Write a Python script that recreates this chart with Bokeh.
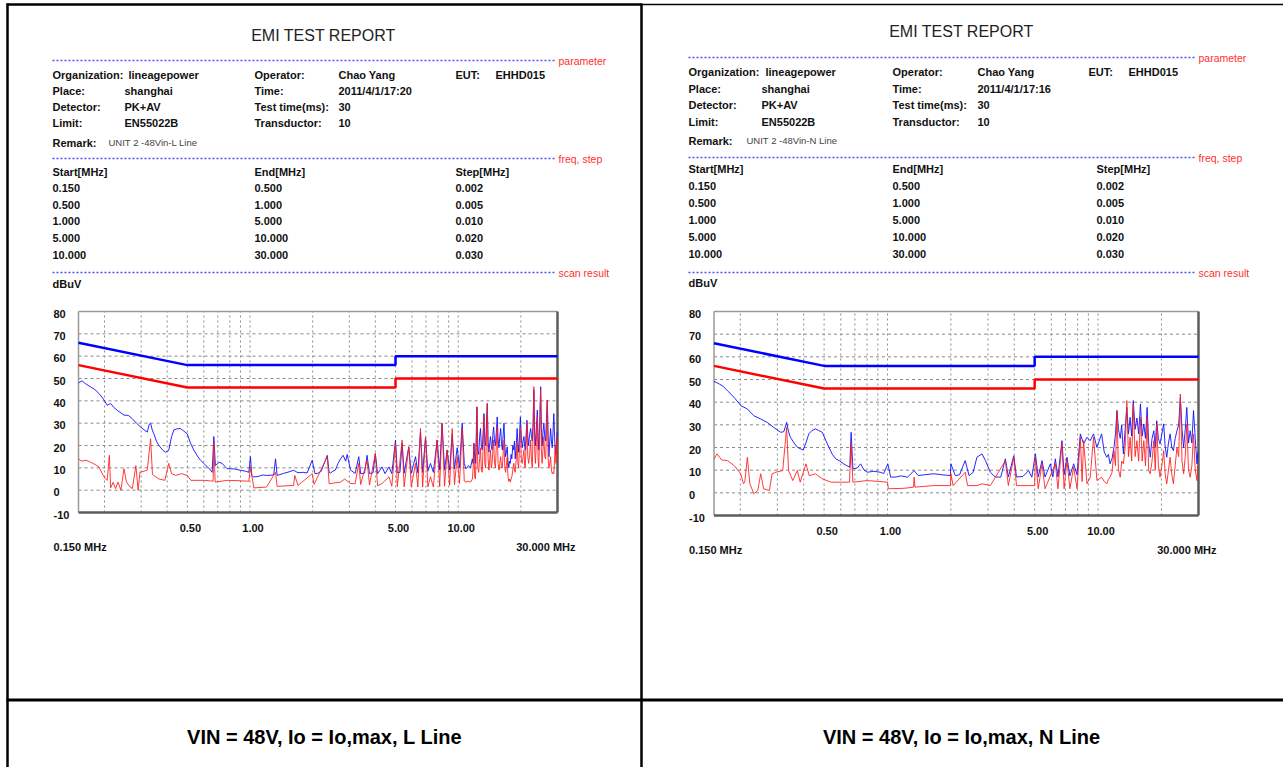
import math
from bokeh.plotting import figure
from bokeh.models import Range1d, LogScale
from bokeh.core.properties import value
from bokeh.embed import file_html
from bokeh.resources import INLINE

# ---------------- data ----------------
FREQ_RANGE = [0.150, 30.0]
DB_RANGE = [-10, 80]
DB_TICKS = [80, 70, 60, 50, 40, 30, 20, 10, 0, -10]
DB_GRID = [0, 10, 20, 30, 40, 50, 60, 70]
FREQ_TICKS = [0.5, 1.0, 5.0, 10.0]
FREQ_GRID = [0.2, 0.3, 0.4, 0.5, 0.6, 0.7, 0.8, 0.9, 1, 2, 3, 4, 5, 6, 7, 8, 9, 10, 20]

LIMIT_F = [0.15, 0.5, 5.0, 5.0, 30.0]
LIMIT_PK = [66, 56, 56, 60, 60]
LIMIT_AV = [56, 46, 46, 50, 50]

SCAN_HEAD = ["Start[MHz]", "End[MHz]", "Step[MHz]"]
SCAN_START = ["0.150", "0.500", "1.000", "5.000", "10.000"]
SCAN_END = ["0.500", "1.000", "5.000", "10.000", "30.000"]
SCAN_STEP = ["0.002", "0.005", "0.010", "0.020", "0.030"]

INFO_LABEL_1 = ["Organization:", "Place:", "Detector:", "Limit:"]
INFO_VALUE_1 = ["lineagepower", "shanghai", "PK+AV", "EN55022B"]
INFO_LABEL_2 = ["Operator:", "Time:", "Test time(ms):", "Transductor:"]
INFO_VALUE_2_L = ["Chao Yang", "2011/4/1/17:20", "30", "10"]
INFO_VALUE_2_N = ["Chao Yang", "2011/4/1/17:16", "30", "10"]
EUT = ["EUT:", "EHHD015"]
REMARK_L = "UNIT 2 -48Vin-L Line"
REMARK_N = "UNIT 2 -48Vin-N Line"
SECTION_TAGS = ["parameter", "freq, step", "scan result"]
TITLE = "EMI TEST REPORT"
CAPTION_L = "VIN = 48V, Io = Io,max, L Line"
CAPTION_N = "VIN = 48V, Io = Io,max, N Line"

# L line, peak detector (freq MHz, dBuV)
L_PEAK = [
    (0.150, 48), (0.156, 49), (0.163, 47.5), (0.171, 46.3), (0.180, 45), (0.188, 43.3),
    (0.197, 41), (0.206, 38), (0.214, 38.8), (0.222, 37), (0.230, 35.8), (0.248, 33.6),
    (0.260, 33.5), (0.272, 32), (0.285, 30), (0.298, 28.3), (0.310, 27), (0.321, 26),
    (0.328, 29.5), (0.333, 30), (0.339, 27), (0.345, 25.3), (0.355, 22), (0.365, 20),
    (0.380, 18), (0.393, 17), (0.407, 17.8), (0.420, 24), (0.431, 27), (0.447, 27.5),
    (0.463, 27.6), (0.480, 26.5), (0.499, 25.3), (0.518, 21), (0.537, 18), (0.557, 15.5),
    (0.578, 13.4), (0.600, 12), (0.623, 10.4), (0.640, 9.5), (0.658, 8), (0.670, 24),
    (0.682, 11), (0.710, 12.5), (0.735, 12), (0.760, 10.5), (0.777, 9.6), (0.840, 9.5),
    (0.900, 8.9), (0.950, 8.5), (0.987, 8), (1.005, 15), (1.020, 6.5), (1.043, 5.9),
    (1.100, 6.2), (1.150, 6.8), (1.209, 6.6), (1.300, 6.8), (1.326, 14), (1.350, 6.6),
    (1.450, 7.5), (1.540, 8.2), (1.620, 8.9), (1.700, 7.8), (1.800, 8.0), (1.880, 7.7),
    (1.990, 13.4), (2.050, 7.5), (2.100, 7.4), (2.200, 8.5), (2.350, 15.6), (2.400, 8),
    (2.440, 7.7), (2.500, 8.5), (2.570, 9), (2.650, 12), (2.720, 14), (2.800, 15.6),
    (2.880, 13), (2.930, 16), (3.040, 9), (3.200, 7.5), (3.330, 15), (3.400, 7.4),
    (3.550, 7.6), (3.650, 15.6), (3.750, 7.4), (3.900, 7.8), (4.000, 16.4), (4.100, 7.4),
    (4.310, 10.4), (4.450, 7.4), (4.650, 10.4), (4.800, 7.4), (5.000, 22.4), (5.100, 7.8),
    (5.250, 8), (5.380, 21), (5.500, 7.6), (5.790, 19.4), (5.950, 7.5), (6.240, 15),
    (6.400, 7.8), (6.590, 26), (6.750, 8), (6.970, 23.8), (7.150, 8.5), (7.360, 12),
    (7.600, 8), (7.920, 22.4), (8.150, 9), (8.370, 30), (8.600, 9), (8.850, 18),
    (9.100, 9), (9.360, 25), (9.600, 9.5), (9.890, 19), (10.15, 10), (10.45, 30),
    (10.70, 12), (10.90, 9.5), (11.20, 11), (11.46, 10), (11.70, 14), (11.80, 12),
    (11.90, 21), (12.00, 15), (12.10, 12), (12.20, 22), (12.30, 37.3), (12.42, 18),
    (12.55, 16), (12.68, 24), (12.80, 27.6), (12.92, 20), (13.05, 18), (13.18, 26),
    (13.30, 34.3), (13.42, 22), (13.55, 20), (13.68, 30), (13.80, 38.8), (13.92, 22),
    (14.05, 17), (14.18, 21), (14.30, 24), (14.42, 20), (14.55, 18), (14.68, 25),
    (14.80, 28.3), (14.95, 22), (15.10, 20), (15.25, 26), (15.40, 32.8), (15.55, 23),
    (15.70, 19), (15.85, 24), (16.00, 27.6), (16.15, 21), (16.30, 18), (16.45, 25),
    (16.60, 30), (16.75, 20), (16.90, 15), (17.05, 17), (17.20, 19.4), (17.35, 13),
    (17.50, 10), (17.65, 13), (17.80, 12), (17.95, 16), (18.10, 14), (18.30, 20),
    (18.50, 18), (18.65, 22), (18.80, 14), (19.00, 20), (19.20, 27.6), (19.35, 21),
    (19.50, 17), (19.70, 24), (19.90, 32.8), (20.10, 24), (20.30, 19), (20.50, 22),
    (20.70, 24), (20.85, 20), (21.00, 18), (21.20, 25), (21.40, 31.3), (21.60, 24),
    (21.80, 20), (22.05, 25), (22.30, 27.6), (22.50, 24), (22.70, 22), (22.90, 30),
    (23.10, 44.8), (23.30, 26), (23.50, 20), (23.75, 28), (24.00, 35.8), (24.20, 24),
    (24.40, 18), (24.65, 30), (24.90, 46.3), (25.10, 28), (25.30, 20), (25.55, 26),
    (25.80, 30), (26.05, 24), (26.30, 22), (26.55, 32), (26.80, 40.3), (27.05, 24),
    (27.30, 15), (27.55, 22), (27.80, 27.6), (28.05, 22), (28.30, 19), (28.55, 26),
    (28.80, 34.3), (29.05, 24), (29.30, 16), (29.50, 19), (29.70, 21), (29.90, 26),
]

# L line, average detector
L_AVG = [
    (0.150, 14), (0.155, 13), (0.163, 13.4), (0.171, 12.6), (0.180, 11.5), (0.188, 10.4),
    (0.196, 7), (0.202, 5.1), (0.206, 4.4), (0.211, 15.6), (0.214, 1), (0.220, 3.5),
    (0.226, 0.7), (0.232, 3.6), (0.240, 0), (0.248, 9.6), (0.255, 3.6), (0.265, 1.5),
    (0.272, 0.7), (0.283, 11), (0.290, 0), (0.296, 8), (0.310, 8.5), (0.321, 9),
    (0.333, 23), (0.340, 7), (0.345, 6.6), (0.365, 5), (0.390, 4.4), (0.407, 12),
    (0.420, 7.4), (0.440, 6.6), (0.470, 7.4), (0.500, 6.5), (0.520, 4.4), (0.600, 4.4),
    (0.640, 4.2), (0.665, 4), (0.670, 21.6), (0.680, 3.6), (0.777, 4.4), (0.900, 4.2),
    (0.987, 4), (1.005, 10.4), (1.043, 1), (1.200, 1.4), (1.326, 8), (1.350, 1.7),
    (1.620, 2.1), (1.640, 6.6), (1.700, 2.1), (1.990, 7.4), (2.030, 2.6), (2.350, 15),
    (2.400, 2.9), (2.720, 3.6), (2.850, 5), (3.040, 3), (3.200, 2.9), (3.330, 12),
    (3.400, 2.5), (3.650, 13.4), (3.750, 2.3), (4.000, 16.4), (4.100, 2), (4.310, 3),
    (4.650, 6), (4.800, 1.8), (5.000, 21), (5.100, 1.6), (5.380, 22.4), (5.500, 1.5),
    (5.790, 19.4), (5.950, 1.5), (6.240, 12), (6.400, 1.4), (6.590, 27.6), (6.750, 1.4),
    (6.970, 23.8), (7.150, 1.5), (7.360, 6), (7.600, 1.4), (7.920, 22.4), (8.150, 1.6),
    (8.370, 30), (8.600, 1.8), (8.850, 18), (9.100, 2.2), (9.360, 27.6), (9.600, 2.5),
    (9.890, 15), (10.15, 3), (10.45, 27.6), (10.70, 4), (10.90, 3.6), (11.20, 4),
    (11.46, 3.6), (11.70, 5), (11.80, 10), (11.90, 21), (12.00, 6), (12.10, 5),
    (12.20, 15), (12.30, 37.3), (12.42, 10), (12.55, 8), (12.68, 14), (12.80, 19),
    (12.92, 9), (13.05, 8), (13.18, 20), (13.30, 32.8), (13.42, 12), (13.55, 10),
    (13.68, 26), (13.80, 38.8), (13.92, 14), (14.05, 9), (14.18, 14), (14.30, 18),
    (14.42, 10), (14.55, 12), (14.68, 18), (14.80, 22.4), (14.95, 12), (15.10, 10),
    (15.25, 20), (15.40, 28.3), (15.55, 12), (15.70, 9), (15.85, 12), (16.00, 15),
    (16.15, 10), (16.30, 10), (16.45, 17), (16.60, 22.4), (16.75, 10), (16.90, 8),
    (17.05, 11), (17.20, 15), (17.35, 6), (17.50, 4), (17.65, 5), (17.80, 3.6),
    (17.95, 5), (18.10, 6), (18.30, 9), (18.50, 12), (18.65, 9), (18.80, 8),
    (19.00, 14), (19.20, 21), (19.35, 12), (19.50, 10), (19.70, 18), (19.90, 27.6),
    (20.10, 14), (20.30, 12), (20.50, 15), (20.70, 18), (20.85, 11), (21.00, 10),
    (21.20, 20), (21.40, 30), (21.60, 15), (21.80, 12), (22.05, 16), (22.30, 22.4),
    (22.50, 13), (22.70, 10), (22.90, 26), (23.10, 46.3), (23.30, 18), (23.50, 12),
    (23.75, 22), (24.00, 32.8), (24.20, 14), (24.40, 10), (24.65, 26), (24.90, 44.8),
    (25.10, 18), (25.30, 12), (25.55, 18), (25.80, 24), (26.05, 15), (26.30, 14),
    (26.55, 25), (26.80, 40.3), (27.05, 14), (27.30, 10), (27.55, 12), (27.80, 15),
    (28.05, 9), (28.30, 7.4), (28.55, 8), (28.80, 7.4), (29.05, 14), (29.30, 20),
    (29.50, 12), (29.70, 24), (29.90, 14),
]

# N line, peak detector
N_PEAK = [
    (0.150, 49.2), (0.159, 48), (0.166, 47), (0.174, 45), (0.187, 42.1), (0.201, 38.5),
    (0.216, 37), (0.232, 34), (0.250, 32.6), (0.268, 31.1), (0.288, 28.9), (0.311, 26.7),
    (0.322, 27), (0.332, 31.1), (0.339, 27), (0.346, 24.5), (0.360, 22), (0.373, 20.1),
    (0.397, 18.9), (0.410, 22), (0.423, 26), (0.438, 27.5), (0.455, 28.2), (0.472, 27.5),
    (0.490, 26.7), (0.510, 23), (0.527, 20.1), (0.547, 17), (0.568, 15), (0.595, 14),
    (0.619, 12.8), (0.640, 12), (0.662, 11.3), (0.672, 26.7), (0.685, 10.6), (0.720, 11),
    (0.745, 12.8), (0.775, 10), (0.803, 9.1), (0.860, 9.5), (0.922, 9.1), (0.960, 8.5),
    (1.004, 12.8), (1.035, 6.9), (1.100, 7), (1.160, 7.5), (1.244, 6.9), (1.338, 9.8),
    (1.400, 7.6), (1.500, 8), (1.660, 8.4), (1.800, 8), (1.990, 7.6), (2.000, 12.8),
    (2.100, 7.6), (2.200, 8), (2.340, 14.2), (2.440, 7.6), (2.550, 9), (2.660, 15.7),
    (2.810, 17.2), (2.920, 14.2), (3.080, 9.1), (3.250, 7), (3.450, 6.9), (3.630, 15),
    (3.750, 7), (3.980, 16.4), (4.100, 7), (4.400, 7.2), (4.680, 9.8), (4.850, 6.9),
    (5.040, 17.2), (5.200, 7), (5.420, 14.2), (5.600, 7), (5.940, 12.8), (6.100, 7),
    (6.270, 15), (6.450, 7), (6.740, 23), (6.900, 8), (7.120, 15.7), (7.350, 7.5),
    (7.660, 12.8), (7.950, 8), (8.240, 26), (8.540, 21.6), (8.860, 24.5), (9.180, 23),
    (9.520, 26), (9.880, 20), (10.40, 26), (10.70, 18), (11.00, 15.7), (11.20, 17),
    (11.40, 12.8), (11.65, 15), (11.90, 20), (12.10, 26), (12.30, 36.3), (12.50, 28),
    (12.75, 24), (12.95, 30), (13.20, 17.2), (13.45, 28), (13.70, 37.7), (13.95, 26),
    (14.20, 33.3), (14.45, 25), (14.70, 40.7), (15.00, 28), (15.30, 33), (15.60, 26),
    (15.90, 39.2), (16.20, 25), (16.50, 30.4), (16.80, 24), (17.10, 37.7), (17.40, 22),
    (17.70, 15.7), (18.05, 24), (18.40, 27.4), (18.70, 20), (19.00, 31.8), (19.35, 24),
    (19.70, 21.6), (20.10, 26), (20.50, 30.4), (20.85, 20), (21.20, 15.7), (21.60, 22),
    (22.00, 26), (22.40, 20), (22.80, 18.6), (23.25, 24), (23.70, 27.4), (24.15, 30),
    (24.60, 42.1), (25.05, 28), (25.50, 20), (25.95, 28), (26.40, 37.7), (26.90, 22),
    (27.40, 27.4), (27.90, 22), (28.40, 36.3), (28.95, 24), (29.50, 12.8), (29.80, 18),
]

# N line, average detector
N_AVG = [
    (0.150, 15), (0.155, 17.2), (0.163, 14.5), (0.174, 14.2), (0.187, 12), (0.201, 8.4),
    (0.207, 4), (0.210, 4.7), (0.216, 15.7), (0.222, 4), (0.232, -0.4), (0.242, 1),
    (0.250, 8.4), (0.258, 1.8), (0.275, 1), (0.283, 8.4), (0.295, 9.1), (0.318, 9.8),
    (0.332, 28.9), (0.339, 9.8), (0.355, 5.4), (0.373, 9.8), (0.385, 4.7), (0.410, 12.8),
    (0.425, 7.6), (0.455, 8.4), (0.490, 6.2), (0.540, 4.7), (0.600, 4.7), (0.660, 4.7),
    (0.672, 21.6), (0.685, 4.7), (0.800, 5.4), (0.920, 5), (1.000, 4.7), (1.010, 1.8),
    (1.200, 2), (1.330, 2.5), (1.338, 6.9), (1.350, 2.5), (1.660, 3.2), (1.990, 3.2),
    (2.000, 8.4), (2.050, 3.2), (2.340, 9.1), (2.400, 3.2), (2.660, 3.2), (2.810, 4),
    (3.080, 3.2), (3.630, 14.2), (3.750, 3.2), (3.980, 15.7), (4.100, 3.2), (4.680, 3.2),
    (5.000, 3.2), (5.040, 15.7), (5.200, 1.8), (5.420, 12.8), (5.600, 1.8), (6.270, 12.8),
    (6.450, 1.8), (6.740, 21.6), (6.900, 1.8), (7.120, 14.2), (7.350, 1.8), (7.660, 11.3),
    (7.950, 1.8), (8.240, 24.5), (8.400, 5), (8.540, 23), (8.860, 4), (9.180, 6.9),
    (9.520, 24.5), (9.880, 5.4), (10.40, 6.9), (10.70, 5), (11.00, 4), (11.20, 6),
    (11.40, 6.9), (11.65, 9), (11.90, 18.6), (12.10, 12), (12.30, 36.3), (12.50, 10),
    (12.75, 6.9), (12.95, 14), (13.20, 12.8), (13.45, 20), (13.70, 40.7), (13.95, 16),
    (14.20, 24.5), (14.45, 14), (14.70, 39.2), (15.00, 16), (15.30, 23), (15.60, 14),
    (15.90, 33.3), (16.20, 14), (16.50, 23), (16.80, 12), (17.10, 33.3), (17.40, 10),
    (17.70, 8.4), (18.05, 14), (18.40, 23), (18.70, 10), (19.00, 30.4), (19.35, 12),
    (19.70, 6.9), (20.10, 12), (20.50, 18.6), (20.85, 8), (21.20, 4), (21.60, 10),
    (22.00, 15.7), (22.40, 8), (22.80, 4), (23.25, 12), (23.70, 20), (24.15, 16),
    (24.60, 43.6), (25.05, 14), (25.50, 8.4), (25.95, 16), (26.40, 30.4), (26.90, 10),
    (27.40, 6.9), (27.90, 12), (28.40, 25.9), (28.95, 10), (29.50, 5.4), (29.80, 12),
]

# ---------------- figure ----------------
W, H = 1283, 767
p = figure(width=W, height=H, x_range=Range1d(0, W), y_range=Range1d(H, 0),
           output_backend="svg", toolbar_location=None, min_border=0,
           x_axis_location=None, y_axis_location=None)
p.grid.visible = False
p.outline_line_color = None
p.background_fill_color = "white"
p.border_fill_color = "white"

FONT = value("Liberation Sans")


def txt(xs, ys, texts, size="11px", style="bold", color="#111111", align="left",
        baseline="middle", **kw):
    p.text(x=xs, y=ys, text=texts, text_font=FONT, text_font_size=size,
           text_font_style=style, text_color=color, text_align=align,
           text_baseline=baseline, **kw)


# table lines (page coordinates)
p.segment(x0=[6, 641], y0=[4, 4], x1=[641, W], y1=[4, 4],
          line_color="black", line_width=[2.5, 1.5])
p.segment(x0=[7, 641], y0=[3, 3], x1=[7, 641], y1=[H, H],
          line_color="black", line_width=2.5)
p.segment(x0=[6], y0=[699.5], x1=[W], y1=[699.5], line_color="black", line_width=3)

extra_x, extra_y, extra_xs = {}, {}, {}

PANELS = [
    dict(key="L", peak=L_PEAK, avg=L_AVG, info2=INFO_VALUE_2_L, remark=REMARK_L,
         caption=CAPTION_L, caption_xy=(324, 736),
         frame=(78, 557, 311, 512), title_xy=(323, 35),
         cx=[52, 124, 254, 338, 455, 495], val0_x=128,
         rows=[74, 90, 106, 122.5], remark_y=142, remark_x=108,
         sep=[60, 158, 272], sep_x=(52, 555), tag_x=558,
         head_y=171, scan_rows=[187, 204, 220.5, 237, 254], scan_x=[52, 254, 455],
         dbuv_y=283),
    dict(key="N", peak=N_PEAK, avg=N_AVG, info2=INFO_VALUE_2_N, remark=REMARK_N,
         caption=CAPTION_N, caption_xy=(961, 736),
         frame=(713.5, 1198, 311, 515), title_xy=(961, 31),
         cx=[688, 761, 892, 977, 1088, 1128], val0_x=765,
         rows=[71, 88, 104, 121], remark_y=140, remark_x=746,
         sep=[57, 157, 272], sep_x=(688, 1195), tag_x=1198,
         head_y=168, scan_rows=[185, 202, 219, 236, 253], scan_x=[688, 892, 1096],
         dbuv_y=282),
]

for pn in PANELS:
    k = pn["key"]
    L, R, T, B = pn["frame"]
    lo, hi = math.log10(FREQ_RANGE[0]), math.log10(FREQ_RANGE[1])
    kx = (hi - lo) / (R - L)
    extra_x[k] = Range1d(10 ** (lo - L * kx), 10 ** (hi + (W - R) * kx))
    extra_xs[k] = LogScale()
    d0, d1 = DB_RANGE
    ky = (d1 - d0) / (B - T)
    extra_y[k] = Range1d(d0 - (H - B) * ky, d1 + T * ky)

p.extra_x_ranges = extra_x
p.extra_y_ranges = extra_y
p.extra_x_scales = extra_xs

for pn in PANELS:
    k = pn["key"]
    rn = dict(x_range_name=k, y_range_name=k)
    f0, f1 = FREQ_RANGE
    d0, d1 = DB_RANGE

    # ---- header texts ----
    txt([pn["title_xy"][0]], [pn["title_xy"][1]], [TITLE], size="16px", style="normal",
        color="#222222", align="center")
    sx0, sx1 = pn["sep_x"]
    p.segment(x0=[sx0] * 3, y0=pn["sep"], x1=[sx1] * 3, y1=pn["sep"],
              line_color="#4f4fff", line_width=1.5, line_dash="2 2")
    txt([pn["tag_x"]] * 3, pn["sep"], SECTION_TAGS, size="10.5px", style="normal",
        color="#ff3030")
    cx = pn["cx"]
    rows = pn["rows"]
    txt([cx[0]] * 4, rows, INFO_LABEL_1)
    txt([pn["val0_x"]] + [cx[1]] * 3, rows, INFO_VALUE_1)
    txt([cx[2]] * 4, rows, INFO_LABEL_2)
    txt([cx[3]] * 4, rows, pn["info2"])
    txt([cx[4], cx[5]], [rows[0]] * 2, EUT)
    txt([cx[0]], [pn["remark_y"]], ["Remark:"])
    txt([pn["remark_x"]], [pn["remark_y"]], [pn["remark"]], size="9.5px", style="normal",
        color="#444444")
    txt(pn["scan_x"], [pn["head_y"]] * 3, SCAN_HEAD)
    for col, vals in zip(pn["scan_x"], [SCAN_START, SCAN_END, SCAN_STEP]):
        txt([col] * len(vals), pn["scan_rows"], vals)
    txt([cx[0]], [pn["dbuv_y"]], ["dBuV"])

    # ---- grid ----
    p.segment(x0=FREQ_GRID, y0=[d0] * len(FREQ_GRID), x1=FREQ_GRID, y1=[d1] * len(FREQ_GRID),
              line_color="#8a8a8a", line_width=1, line_dash="2 3", **rn)
    p.segment(x0=[f0] * len(DB_GRID), y0=DB_GRID, x1=[f1] * len(DB_GRID), y1=DB_GRID,
              line_color="#8a8a8a", line_width=1, line_dash="3 3", **rn)

    # ---- frame ----
    p.segment(x0=[f0, f0], y0=[d0, d1], x1=[f0, f1], y1=[d1, d1],
              line_color="#9a9a9a", line_width=1.5, **rn)
    p.segment(x0=[f1, f0], y0=[d1, d0], x1=[f1, f1], y1=[d0, d0],
              line_color="#5c5c5c", line_width=2.5, **rn)

    # ---- tick labels ----
    txt([f0] * len(DB_TICKS), DB_TICKS, [str(v) for v in DB_TICKS],
        x_offset=-25, y_offset=2, **rn)
    txt(FREQ_TICKS, [d0] * len(FREQ_TICKS), ["%.2f" % v for v in FREQ_TICKS],
        align="center", x_offset=3, y_offset=15, **rn)
    txt([f0], [d0], ["%.3f MHz" % f0], x_offset=-25, y_offset=34, **rn)
    txt([f1], [d0], ["%.3f MHz" % f1], align="right", x_offset=18, y_offset=34, **rn)

    # ---- traces ----
    pf, pv = zip(*pn["peak"])
    af, av = zip(*pn["avg"])
    p.line(list(pf), list(pv), line_color="#1010ff", line_width=1, line_alpha=0.9, **rn)
    p.line(list(af), list(av), line_color="#ff1a1a", line_width=1, line_alpha=0.85, **rn)

    # ---- limits ----
    p.line(LIMIT_F, LIMIT_PK, line_color="#0000ff", line_width=2.5, **rn)
    p.line(LIMIT_F, LIMIT_AV, line_color="#ff0000", line_width=2.5, **rn)

    # ---- caption ----
    txt([pn["caption_xy"][0]], [pn["caption_xy"][1]], [pn["caption"]], size="20px",
        color="#000000", align="center")

open("out.html", "w").write(file_html(p, INLINE))
